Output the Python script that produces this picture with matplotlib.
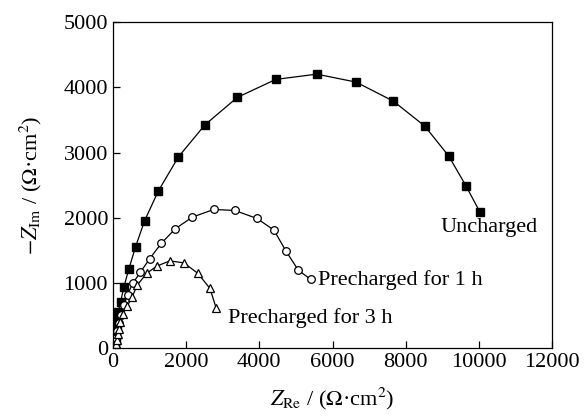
import matplotlib
matplotlib.use("Agg")
from matplotlib import pyplot as plt

plt.rcParams["font.family"] = ["Liberation Serif", "DejaVu Serif"]
plt.rcParams["mathtext.fontset"] = "stix"

# Uncharged
unc_re = [50, 65, 80, 95, 110, 125, 145, 210, 301, 437, 621, 867, 1244, 1791,
          2515, 3398, 4448, 5569, 6643, 7663, 8521, 9177, 9650, 10033]
unc_im = [20, 60, 120, 200, 300, 420, 557, 710, 940, 1217, 1558, 1956, 2413, 2934,
          3425, 3845, 4121, 4202, 4080, 3788, 3405, 2945, 2485, 2081]

# Precharged for 1 h
p1_re = [55, 70, 90, 120, 160, 220, 300, 400, 539, 752, 1006, 1326, 1703, 2168,
         2753, 3327, 3937, 4401, 4729, 5066, 5405]
p1_im = [20, 80, 160, 260, 380, 510, 660, 820, 992, 1166, 1373, 1610, 1830, 2009,
         2127, 2112, 1989, 1810, 1488, 1196, 1054]

# Precharged for 3 h
p3_re = [80, 95, 115, 135, 160, 191, 265, 391, 528, 664, 921, 1195, 1558, 1941,
         2324, 2652, 2824]
p3_im = [15, 60, 130, 210, 300, 403, 521, 644, 787, 966, 1146, 1258, 1339, 1308,
         1146, 916, 609]

fig = plt.figure(figsize=(5.88, 4.17), dpi=100)
ax = fig.add_axes([0.192, 0.165, 0.747, 0.782])

ax.plot(unc_re, unc_im, color="black", lw=0.9, marker="s", ms=5.5,
        mfc="black", mec="black")
ax.plot(p1_re, p1_im, color="black", lw=0.9, marker="o", ms=5.5,
        mfc="white", mec="black", mew=0.9)
ax.plot(p3_re, p3_im, color="black", lw=0.9, marker="^", ms=6,
        mfc="white", mec="black", mew=0.9)

ax.text(8940, 1856, "Uncharged", fontsize=16, va="center", ha="left")
ax.text(5600, 1043, "Precharged for 1 h", fontsize=16, va="center", ha="left")
ax.text(3150, 460, "Precharged for 3 h", fontsize=16, va="center", ha="left")

ax.set_xlim(0, 12000)
ax.set_ylim(0, 5000)
ax.set_xticks(range(0, 12001, 2000))
ax.set_yticks(range(0, 5001, 1000))
ax.tick_params(direction="in", labelsize=16, length=5, width=0.9)
for s in ax.spines.values():
    s.set_linewidth(0.9)

ax.set_xlabel(r"$Z_{\rm Re}$ / ($\Omega$·cm$^2$)", fontsize=16, labelpad=10)
ax.set_ylabel(r"$-Z_{\rm Im}$ / ($\Omega$·cm$^2$)", fontsize=16, labelpad=14)

fig.savefig("out.png", dpi=100)
